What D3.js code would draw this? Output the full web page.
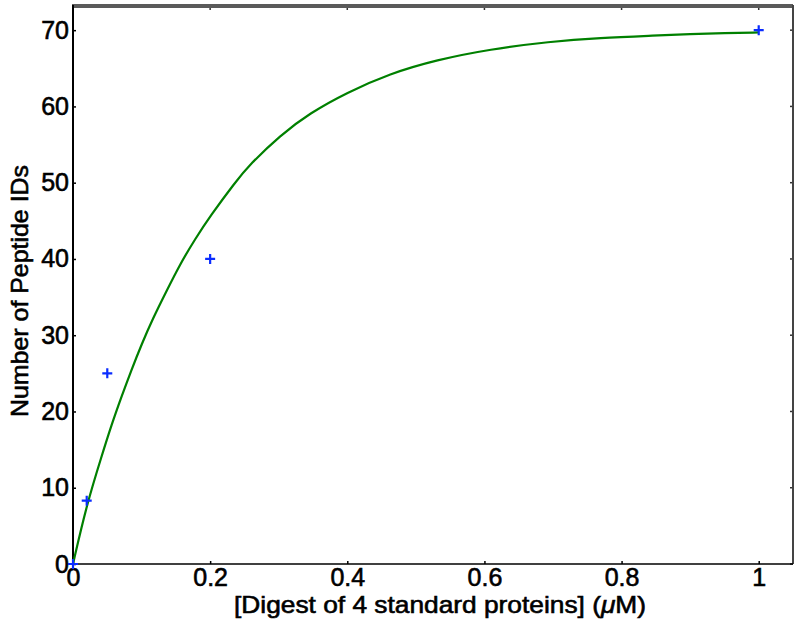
<!DOCTYPE html>
<html>
<head>
<meta charset="utf-8">
<script src="https://cdn.jsdelivr.net/npm/d3@7"></script>
<style>
  body { margin: 0; background: #fff; }
  svg text { font-family: "Liberation Sans", Arial, sans-serif; fill: #000; }
</style>
</head>
<body>
<div id="chart"></div>
<script>
var width = 800;
var height = 632;
var margin = {"top": 5, "right": 7, "bottom": 68, "left": 73};

// measured points
var concX = [0, 0.02, 0.05, 0.2, 1];
var peptideIDs = [0, 8.3, 25, 40, 70];

// fitted curve
var fitX = [0, 0.02, 0.042, 0.056, 0.071, 0.085, 0.1, 0.117, 0.137, 0.156, 0.178, 0.2, 0.236,
            0.258, 0.302, 0.345, 0.399, 0.462, 0.53, 0.608, 0.695, 0.768, 0.85, 0.9, 0.95, 1];
var fitY = [0, 7.8, 14.2, 18.2, 22.0, 25.4, 28.8, 32.3, 35.9, 39.3, 42.6, 45.6, 50.0,
            52.4, 56.2, 59.1, 61.8, 64.3, 66.1, 67.5, 68.5, 69.0, 69.3, 69.5, 69.6, 69.7];

var xTicks = [0, 0.2, 0.4, 0.6, 0.8, 1];
var yTicks = [0, 10, 20, 30, 40, 50, 60, 70];

var svg = d3.select("#chart").append("svg")
    .attr("width", width)
    .attr("height", height);

var xScale = d3.scaleLinear()
    .domain([0, 1.05])
    .range([margin.left, width - margin.right]);
var yScale = d3.scaleLinear()
    .domain([0, 73.3])
    .range([height - margin.bottom, margin.top]);

var x0 = margin.left, x1 = width - margin.right;
var y0 = height - margin.bottom, y1 = margin.top;

// axes
var xAxis = d3.axisBottom(xScale)
    .tickValues(xTicks)
    .tickSize(-3)
    .tickPadding(4)
    .tickFormat(function(d){ return d === 0 || d === 1 ? d3.format("d")(d) : d3.format(".1f")(d); });
var yAxis = d3.axisLeft(yScale)
    .tickValues(yTicks)
    .tickSize(-3)
    .tickPadding(7)
    .tickFormat(d3.format("d"));

var gx = svg.append("g")
    .attr("transform", "translate(" + [0, y0] + ")")
    .call(xAxis);
var gy = svg.append("g")
    .attr("transform", "translate(" + [x0, 0] + ")")
    .call(yAxis);

[gx, gy].forEach(function(g){
    g.select(".domain").remove();
    g.selectAll(".tick line").attr("stroke", "#000").attr("stroke-width", 1.5);
    g.selectAll(".tick text")
        .attr("font-size", 25)
        .attr("fill", "#000")
        .attr("stroke", "#000")
        .attr("stroke-width", 0.6);
});
gx.selectAll(".tick text").attr("dy", "0.7em");
gy.selectAll(".tick text").attr("dx", "3");

// top and right ticks
svg.append("g").selectAll("line").data(xTicks).enter().append("line")
    .attr("x1", function(d){ return xScale(d); })
    .attr("x2", function(d){ return xScale(d); })
    .attr("y1", y1).attr("y2", y1 + 5)
    .attr("stroke", "#333").attr("stroke-width", 1.5);
svg.append("g").selectAll("line").data(yTicks).enter().append("line")
    .attr("x1", x1).attr("x2", x1 - 3)
    .attr("y1", function(d){ return yScale(d); })
    .attr("y2", function(d){ return yScale(d); })
    .attr("stroke", "#333").attr("stroke-width", 1.5);

// box
svg.append("line").attr("x1", x0 - 1).attr("x2", x1).attr("y1", y1 + 1).attr("y2", y1 + 1)
    .attr("stroke", "#5a5a5a").attr("stroke-width", 4);
svg.append("line").attr("x1", x1).attr("x2", x1).attr("y1", y1).attr("y2", y0)
    .attr("stroke", "#444").attr("stroke-width", 2);
svg.append("line").attr("x1", x0).attr("x2", x1).attr("y1", y0).attr("y2", y0)
    .attr("stroke", "#000").attr("stroke-width", 1.5);
svg.append("line").attr("x1", x0).attr("x2", x0).attr("y1", y1).attr("y2", y0)
    .attr("stroke", "#000").attr("stroke-width", 2);

// fitted curve
var fit = fitX.map(function(d, i){ return [d, fitY[i]]; });
var line = d3.line()
    .x(function(d){ return xScale(d[0]); })
    .y(function(d){ return yScale(d[1]); })
    .curve(d3.curveBasis);
svg.append("path")
    .datum(fit)
    .attr("d", line)
    .attr("fill", "none")
    .attr("stroke", "#008000")
    .attr("stroke-width", 2.2);

// data markers
var pts = concX.map(function(d, i){ return [d, peptideIDs[i]]; });
svg.append("g").selectAll("path")
    .data(pts)
    .enter().append("path")
    .attr("transform", function(d){ return "translate(" + [xScale(d[0]), yScale(d[1])] + ")"; })
    .attr("d", "M-5,0H5M0,-5V5")
    .attr("stroke", "#0a2cff")
    .attr("stroke-width", 2.2)
    .attr("fill", "none");

// axis titles
var xt = svg.append("text")
    .attr("x", 440)
    .attr("y", 613)
    .attr("text-anchor", "middle")
    .attr("font-size", 24)
    .attr("stroke", "#000")
    .attr("stroke-width", 0.6)
    .attr("textLength", 412)
    .attr("lengthAdjust", "spacingAndGlyphs");
xt.append("tspan").text("[Digest of 4 standard proteins] (");
xt.append("tspan").attr("font-style", "italic").text("\u03bc");
xt.append("tspan").text("M)");

svg.append("text")
    .attr("transform", "translate(28,291) rotate(-90)")
    .attr("text-anchor", "middle")
    .attr("font-size", 24)
    .attr("stroke", "#000")
    .attr("stroke-width", 0.6)
    .attr("textLength", 252)
    .attr("lengthAdjust", "spacingAndGlyphs")
    .text("Number of Peptide IDs");
</script>
</body>
</html>
